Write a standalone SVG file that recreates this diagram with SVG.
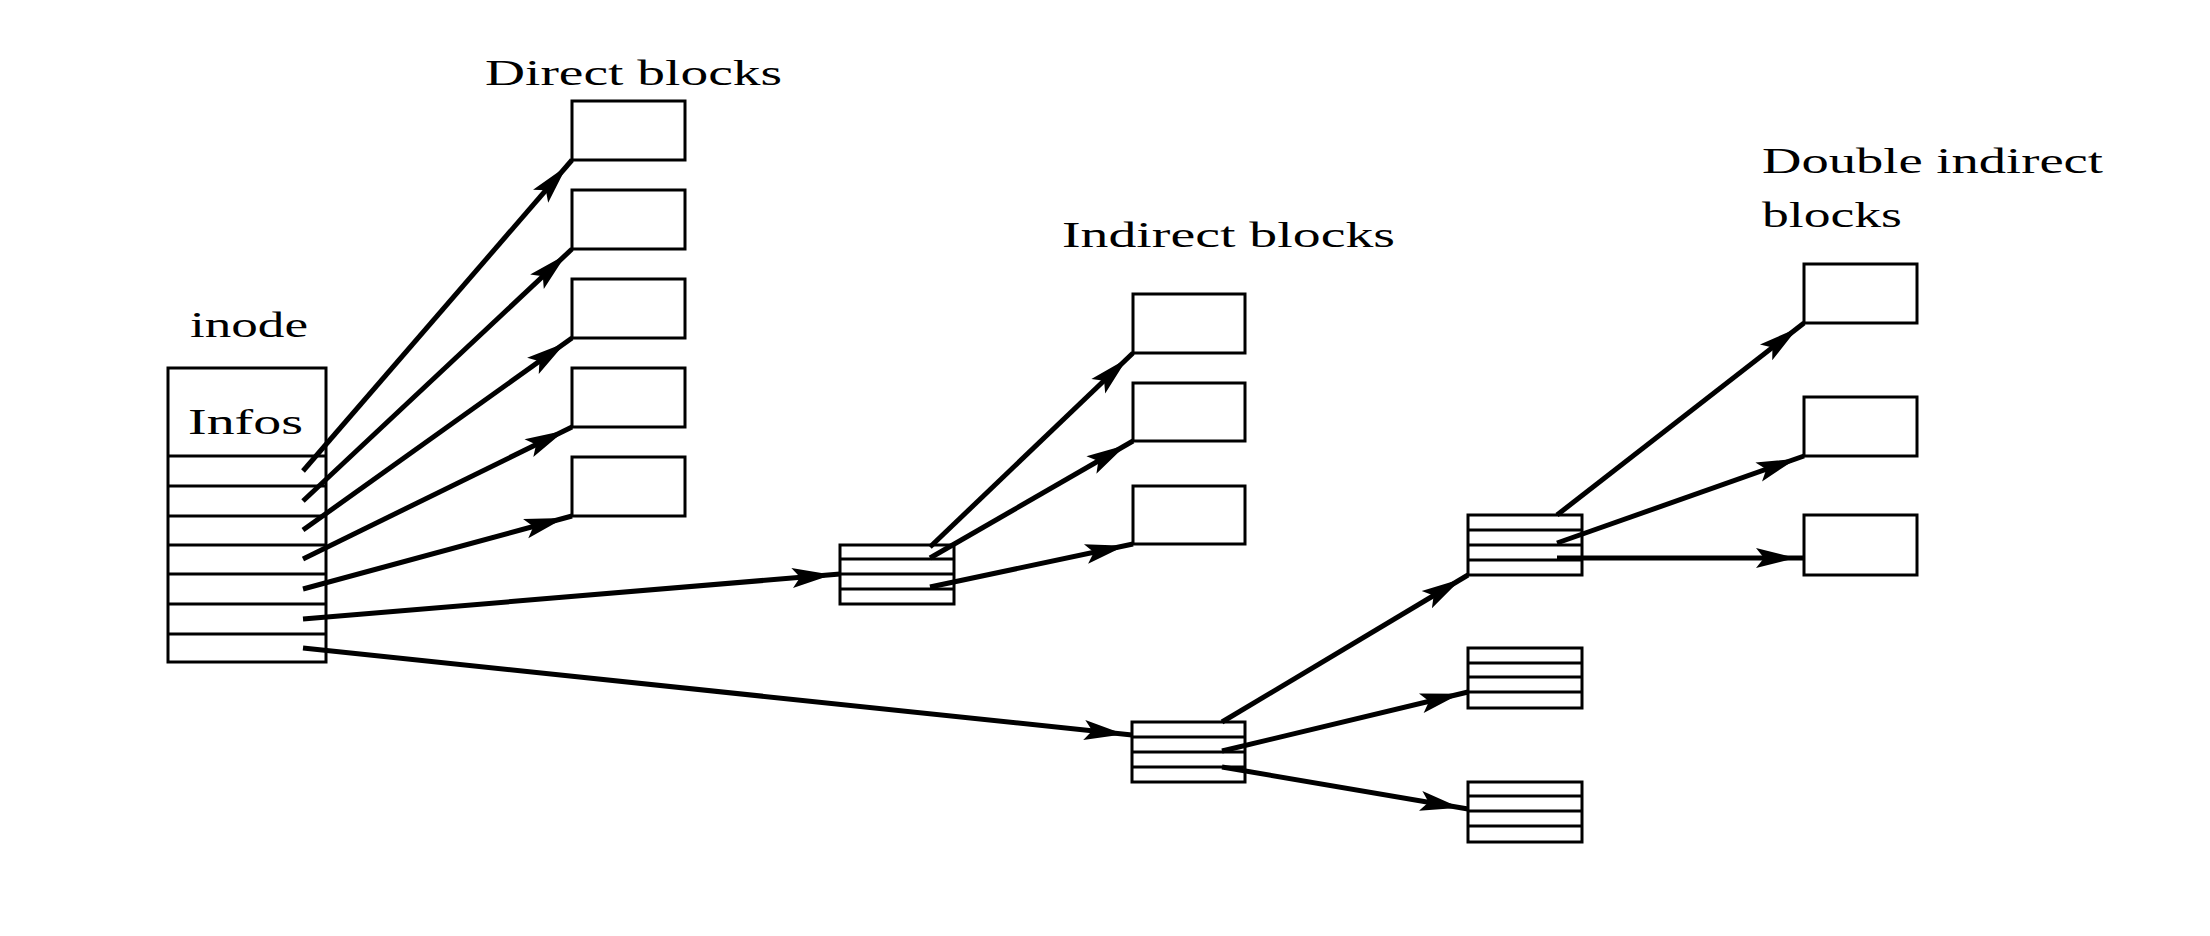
<svg xmlns="http://www.w3.org/2000/svg" width="2210" height="936" viewBox="0 0 2210 936">
  <style>
    .box { fill: #ffffff; stroke: #000000; stroke-width: 3; }
    .row { stroke: #000000; stroke-width: 3; }
    .lbl { font-family: "Liberation Serif", "DejaVu Serif", serif; font-size: 36px; fill: #000000; }
    .edge { fill: none; stroke: #000000; stroke-width: 5; marker-end: url(#arr); }
  </style>
  <defs>
    <marker id="arr" markerUnits="userSpaceOnUse" viewBox="-56 -12 60 24" refX="0" refY="0" markerWidth="60" markerHeight="24" orient="auto">
      <path d="M-8,0 L-48,-10 L-40,0 L-48,10 Z" fill="#000000"/>
    </marker>
  </defs>
  <rect width="2210" height="936" fill="#ffffff"/>

  <g id="labels">
    <text class="lbl" x="485" y="85" textLength="297" lengthAdjust="spacingAndGlyphs">Direct blocks</text>
    <text class="lbl" x="1062" y="247" textLength="333" lengthAdjust="spacingAndGlyphs">Indirect blocks</text>
    <text class="lbl" x="1762" y="173" textLength="341" lengthAdjust="spacingAndGlyphs">Double indirect</text>
    <text class="lbl" x="1762" y="227" textLength="140" lengthAdjust="spacingAndGlyphs">blocks</text>
  </g>

  <g id="inode">
    <text class="lbl" x="190" y="337" textLength="118" lengthAdjust="spacingAndGlyphs">inode</text>
    <rect class="box" x="168" y="368" width="158" height="294"/>
    <text class="lbl" x="188" y="434" textLength="115" lengthAdjust="spacingAndGlyphs">Infos</text>
    <line class="row" x1="168" y1="456" x2="326" y2="456"/>
    <line class="row" x1="168" y1="486" x2="326" y2="486"/>
    <line class="row" x1="168" y1="516" x2="326" y2="516"/>
    <line class="row" x1="168" y1="545" x2="326" y2="545"/>
    <line class="row" x1="168" y1="574" x2="326" y2="574"/>
    <line class="row" x1="168" y1="604" x2="326" y2="604"/>
    <line class="row" x1="168" y1="634" x2="326" y2="634"/>
  </g>

  <g id="direct1"><rect class="box" x="572" y="101" width="113" height="59"/></g>
  <g id="direct2"><rect class="box" x="572" y="190" width="113" height="59"/></g>
  <g id="direct3"><rect class="box" x="572" y="279" width="113" height="59"/></g>
  <g id="direct4"><rect class="box" x="572" y="368" width="113" height="59"/></g>
  <g id="direct5"><rect class="box" x="572" y="457" width="113" height="59"/></g>

  <g id="indirect-table">
    <rect class="box" x="840" y="545" width="114" height="59"/>
    <line class="row" x1="840" y1="559" x2="954" y2="559"/>
    <line class="row" x1="840" y1="574" x2="954" y2="574"/>
    <line class="row" x1="840" y1="589" x2="954" y2="589"/>
  </g>

  <g id="indirect1"><rect class="box" x="1133" y="294" width="112" height="59"/></g>
  <g id="indirect2"><rect class="box" x="1133" y="383" width="112" height="58"/></g>
  <g id="indirect3"><rect class="box" x="1133" y="486" width="112" height="58"/></g>

  <g id="dbl-table">
    <rect class="box" x="1132" y="722" width="113" height="60"/>
    <line class="row" x1="1132" y1="737" x2="1245" y2="737"/>
    <line class="row" x1="1132" y1="752" x2="1245" y2="752"/>
    <line class="row" x1="1132" y1="767" x2="1245" y2="767"/>
  </g>

  <g id="dbl-sub1">
    <rect class="box" x="1468" y="515" width="114" height="60"/>
    <line class="row" x1="1468" y1="530" x2="1582" y2="530"/>
    <line class="row" x1="1468" y1="545" x2="1582" y2="545"/>
    <line class="row" x1="1468" y1="560" x2="1582" y2="560"/>
  </g>
  <g id="dbl-sub2">
    <rect class="box" x="1468" y="648" width="114" height="60"/>
    <line class="row" x1="1468" y1="663" x2="1582" y2="663"/>
    <line class="row" x1="1468" y1="677" x2="1582" y2="677"/>
    <line class="row" x1="1468" y1="692" x2="1582" y2="692"/>
  </g>
  <g id="dbl-sub3">
    <rect class="box" x="1468" y="782" width="114" height="60"/>
    <line class="row" x1="1468" y1="796" x2="1582" y2="796"/>
    <line class="row" x1="1468" y1="811" x2="1582" y2="811"/>
    <line class="row" x1="1468" y1="826" x2="1582" y2="826"/>
  </g>

  <g id="dbl-data1"><rect class="box" x="1804" y="264" width="113" height="59"/></g>
  <g id="dbl-data2"><rect class="box" x="1804" y="397" width="113" height="59"/></g>
  <g id="dbl-data3"><rect class="box" x="1804" y="515" width="113" height="60"/></g>

  <g id="connectors">
    <line class="edge" x1="303" y1="471" x2="572" y2="160"/>
    <line class="edge" x1="303" y1="501" x2="572" y2="249"/>
    <line class="edge" x1="303" y1="530" x2="572" y2="338"/>
    <line class="edge" x1="303" y1="559" x2="572" y2="427"/>
    <line class="edge" x1="303" y1="589" x2="572" y2="516"/>
    <line class="edge" x1="303" y1="619" x2="840" y2="574"/>
    <line class="edge" x1="303" y1="648" x2="1132" y2="735"/>

    <line class="edge" x1="930" y1="547" x2="1133" y2="353"/>
    <line class="edge" x1="930" y1="558" x2="1133" y2="441"/>
    <line class="edge" x1="930" y1="587" x2="1133" y2="544"/>

    <line class="edge" x1="1222" y1="722" x2="1468" y2="575"/>
    <line class="edge" x1="1222" y1="751" x2="1468" y2="692"/>
    <line class="edge" x1="1222" y1="767" x2="1468" y2="809"/>

    <line class="edge" x1="1557" y1="515" x2="1804" y2="323"/>
    <line class="edge" x1="1557" y1="543" x2="1804" y2="456"/>
    <line class="edge" x1="1557" y1="558" x2="1804" y2="558"/>
  </g>
</svg>
